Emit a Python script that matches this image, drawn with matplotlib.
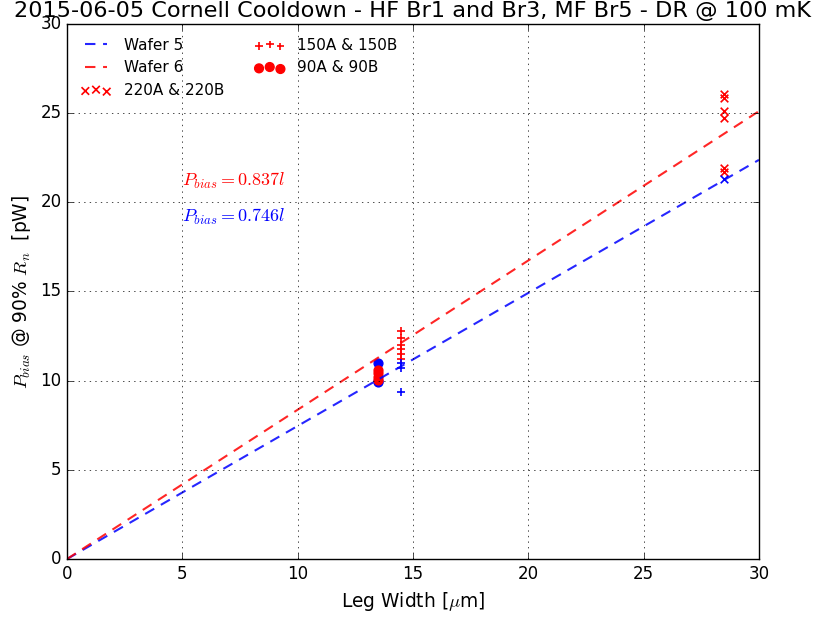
import numpy as np
import matplotlib
matplotlib.use('Agg')
import matplotlib.pyplot as plt

# leg widths [um]
w_90 = 13.5
w_150 = 14.5
w_220 = 28.5

# Pbias values [pW]
wafer5_90 = [11.0, 9.95, 10.0]
wafer6_90 = [10.6, 10.45, 10.2, 10.05]
wafer5_150 = [11.0, 10.7, 9.35]
wafer6_150 = [12.8, 12.4, 12.0, 11.8, 11.5, 11.2]
wafer5_220 = [21.3]
wafer6_220 = [26.1, 25.85, 25.1, 24.75, 21.95, 21.7]

slope5 = 0.746
slope6 = 0.837

plt.style.use('classic')
fig = plt.figure(figsize=(8.15, 6.21), dpi=100)
ax = fig.add_axes([0.0822, 0.0998, 0.849, 0.8616])

xfit = np.array([0, 30])
ax.plot(xfit, slope5 * xfit, 'b--', lw=1.5, dashes=(7.5, 5.5), alpha=0.85,
        label='Wafer 5')
ax.plot(xfit, slope6 * xfit, 'r--', lw=1.5, dashes=(7.5, 5.5), alpha=0.85,
        label='Wafer 6')

ax.scatter([w_220] * len(wafer6_220), wafer6_220, s=30, marker='x', c='r',
           linewidths=1.2, label='220A & 220B')
ax.scatter([w_220] * len(wafer5_220), wafer5_220, s=30, marker='x', c='b',
           linewidths=1.2)
ax.scatter([w_150] * len(wafer6_150), wafer6_150, s=30, marker='+', c='r',
           linewidths=1.2, label='150A & 150B')
ax.scatter([w_150] * len(wafer5_150), wafer5_150, s=30, marker='+', c='b',
           linewidths=1.2)
ax.scatter([w_90] * len(wafer5_90), wafer5_90, s=40, marker='o', c='b',
           edgecolors='b')
ax.scatter([w_90] * len(wafer6_90), wafer6_90, s=40, marker='o', c='r',
           edgecolors='r', label='90A & 90B')

ax.text(5, 20.9, r'$P_{bias} = %.3f l$' % slope6, color='r', fontsize=13)
ax.text(5, 18.9, r'$P_{bias} = %.3f l$' % slope5, color='b', fontsize=13)

ax.set_xlim(0, 30)
ax.set_ylim(0, 30)
ax.grid(True)
ax.set_xlabel(r'Leg Width [$\mu$m]', fontsize=13.4)
ax.set_ylabel(r'$P_{bias}$ @ 90% $R_n$  [pW]', fontsize=13.4)
ax.set_title('2015-06-05 Cornell Cooldown - HF Br1 and Br3, MF Br5 - DR @ 100 mK',
             fontsize=16.1)
ax.legend(loc='upper left', ncol=2, frameon=False, numpoints=3,
          scatterpoints=3, fontsize=11, handlelength=2.0)

fig.savefig('out.png', dpi=100)
